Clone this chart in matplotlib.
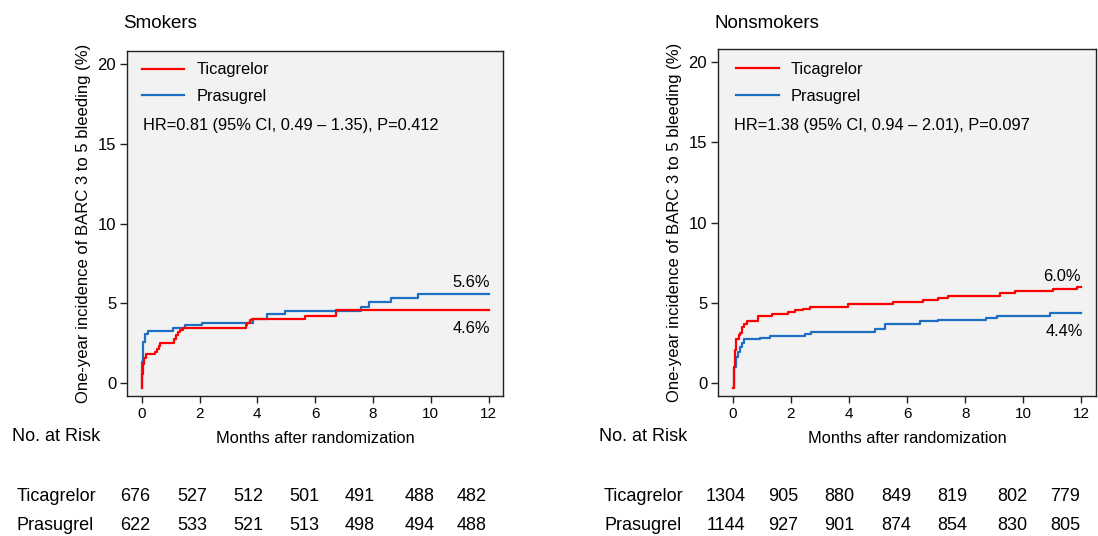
import matplotlib
matplotlib.use("Agg")
import matplotlib.pyplot as plt
from matplotlib.transforms import blended_transform_factory

plt.rcParams['font.family'] = ['Liberation Sans', 'DejaVu Sans']

# ---- Cumulative incidence (%) step data, months after randomization ----
smk_tica_t = [0, 0.02, 0.04, 0.07, 0.15, 0.46, 0.52, 0.58, 0.63, 1.12, 1.18, 1.25, 1.32, 1.44,
              3.59, 3.65, 3.75, 3.82, 5.64, 6.71, 12]
smk_tica_y = [-0.3, 0.6, 1.2, 1.6, 1.83, 1.98, 2.12, 2.3, 2.54, 2.8, 3.0, 3.23, 3.35, 3.44,
              3.62, 3.79, 3.96, 4.0, 4.2, 4.6, 4.6]

smk_pras_t = [0, 0.02, 0.06, 0.12, 0.2, 1.09, 1.5, 2.07, 3.86, 4.32, 4.95, 7.6, 7.87, 8.64, 9.56, 12]
smk_pras_y = [-0.3, 1.35, 2.6, 3.1, 3.27, 3.44, 3.63, 3.8, 4.0, 4.33, 4.54, 4.79, 5.1, 5.31, 5.6, 5.6]

non_tica_t = [0, 0.03, 0.06, 0.1, 0.2, 0.25, 0.33, 0.4, 0.48, 0.88, 1.36, 1.89, 2.14, 2.4, 2.65,
              3.98, 5.52, 6.56, 7.07, 7.42, 9.19, 9.71, 11.03, 11.83, 12]
non_tica_y = [-0.3, 1.0, 2.04, 2.77, 2.97, 3.12, 3.49, 3.7, 3.85, 4.16, 4.3, 4.43, 4.53, 4.64, 4.74,
              4.92, 5.03, 5.16, 5.3, 5.45, 5.61, 5.72, 5.84, 6.0, 6.0]

non_pras_t = [0, 0.04, 0.12, 0.19, 0.25, 0.3, 0.4, 0.94, 1.28, 2.5, 2.7, 4.89, 5.24, 6.44, 7.07,
              8.73, 9.08, 10.91, 12]
non_pras_y = [-0.3, 1.0, 1.62, 1.93, 2.25, 2.5, 2.75, 2.82, 2.93, 3.05, 3.16, 3.39, 3.7, 3.85, 3.95,
              4.07, 4.18, 4.4, 4.4]

# ---- Numbers at risk ----
risk_months = [0, 2, 4, 6, 8, 10, 12]
smk_tica_risk = [676, 527, 512, 501, 491, 488, 482]
smk_pras_risk = [622, 533, 521, 513, 498, 494, 488]
non_tica_risk = [1304, 905, 880, 849, 819, 802, 779]
non_pras_risk = [1144, 927, 901, 874, 854, 830, 805]

hr_smk = "HR=0.81 (95% CI, 0.49 \u2013 1.35), P=0.412"
hr_non = "HR=1.38 (95% CI, 0.94 \u2013 2.01), P=0.097"

RED = '#ff0000'
BLUE = '#1c6fc2'
SPINE = '#222222'

fig = plt.figure(figsize=(10.98, 5.36), dpi=100)

# column centres of the risk table, in months on each panel's x scale
risk_cols = [-0.24, 1.74, 3.67, 5.61, 7.55, 9.62, 11.43]


def panel(rect, title, title_x, tica, pras, hr, tica_off, pras_off,
          tica_ha_x, pras_ha_x, tica_risk, pras_risk, label_x, legend_anchor, hr_pos):
    ax = fig.add_axes(rect)
    ax.set_facecolor('#f2f2f2')
    l1, = ax.step(pras[0], pras[1], where='post', color=BLUE, lw=1.6, label='Prasugrel')
    l2, = ax.step(tica[0], tica[1], where='post', color=RED, lw=1.6, label='Ticagrelor')
    ax.set_xlim(-0.5, 12.5)
    ax.set_ylim(-0.8, 20.8)
    ax.set_xticks(range(0, 13, 2))
    ax.set_yticks([0, 5, 10, 15, 20])
    for s in ax.spines.values():
        s.set_color(SPINE)
        s.set_linewidth(1.0)
    ax.tick_params(axis='y', direction='out', length=5, width=1, color=SPINE,
                   labelsize=12, pad=3)
    ax.tick_params(axis='x', direction='out', length=5, width=1, color=SPINE,
                   labelsize=11, pad=3)
    ax.set_ylabel('One-year incidence of BARC 3 to 5 bleeding (%)', fontsize=12, labelpad=5)
    ax.set_xlabel('Months after randomization', fontsize=11.8, labelpad=7)

    ax.legend(handles=[l2, l1], loc='upper left', bbox_to_anchor=legend_anchor,
              frameon=False, fontsize=11.8, handlelength=2.6, handletextpad=0.75,
              labelspacing=0.72, borderpad=0, borderaxespad=0)
    ax.text(hr_pos[0], hr_pos[1], hr, transform=ax.transAxes, fontsize=11.8, va='center')

    # end-of-follow-up percentages
    yf = tica[1][-1]
    pyf = pras[1][-1]
    ax.annotate(f"{yf:.1f}%", xy=(tica_ha_x, yf), xytext=(0, tica_off),
                textcoords='offset points', ha='right', va='center', fontsize=11.8)
    ax.annotate(f"{pyf:.1f}%", xy=(pras_ha_x, pyf), xytext=(0, pras_off),
                textcoords='offset points', ha='right', va='center', fontsize=11.8)

    fig.text(title_x, 1 - 23 / 536, title, fontsize=13.5, va='center')

    # numbers at risk
    tr = blended_transform_factory(ax.transData, fig.transFigure)
    fig.text(label_x - 0.0045, 1 - 436.7 / 536, 'No. at Risk', fontsize=13, va='center')
    y_t, y_p = 1 - 496.7 / 536, 1 - 526 / 536
    fig.text(label_x, y_t, 'Ticagrelor', fontsize=13, va='center')
    fig.text(label_x, y_p, 'Prasugrel', fontsize=13, va='center')
    for xc, a, b in zip(risk_cols, tica_risk, pras_risk):
        ax.text(xc, y_t, str(a), transform=tr, fontsize=13, ha='center', va='center')
        ax.text(xc, y_p, str(b), transform=tr, fontsize=13, ha='center', va='center')
    return ax


panel([127.3 / 1098, 1 - 396 / 536, 375.7 / 1098, 345 / 536], 'Smokers', 123 / 1098,
      (smk_tica_t, smk_tica_y), (smk_pras_t, smk_pras_y), hr_smk,
      -13.4, 8.1, 12.04, 12.04, smk_tica_risk, smk_pras_risk, 16.7 / 1098,
      (0.038, 0.967), (0.043, 0.783))

panel([718.3 / 1098, 1 - 396 / 536, 377.7 / 1098, 346.7 / 536], 'Nonsmokers', 715 / 1098,
      (non_tica_t, non_tica_y), (non_pras_t, non_pras_y), hr_non,
      7.5, -13.6, 11.97, 12.06, non_tica_risk, non_pras_risk, 604 / 1098,
      (0.047, 0.964), (0.042, 0.78))

fig.savefig('out.png', dpi=100, facecolor='white')
